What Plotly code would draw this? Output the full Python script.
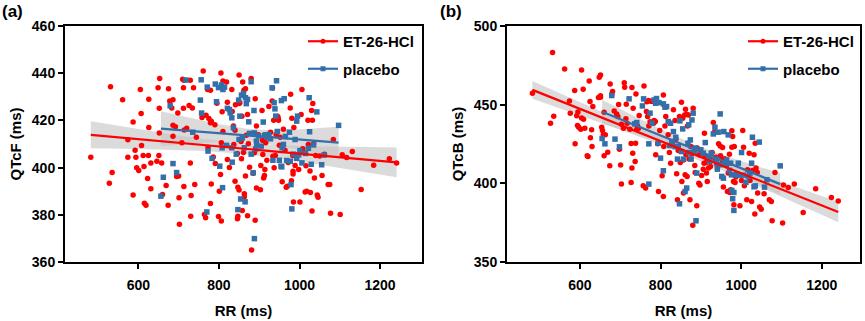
import numpy as np
import plotly.graph_objects as go

# ---------------- Panel (a): QTcF vs RR ----------------
a_red_rr = [482,531,528,535,561,574,574,587,587,592,594,596,601,605,607,608,612,614,615,619,625,623,626,626,631,631,
            646,649,652,652,651,653,658,660,669,674,675,678,683,686,686,692,686,695,698,700,701,702,708,710,712,712,713,
            713,714,720,726,729,729,730,731,734,737,740,744,758,761,764,767,768,772,773,775,779,779,781,779,781,786,790,
            791,795,799,801,804,805,806,806,808,810,810,819,821,821,826,832,833,836,837,840,840,841,846,846,847,847,850,
            850,850,852,855,856,857,858,859,861,862,863,863,866,866,866,868,871,871,873,876,880,881,885,888,890,890,893,
            893,898,903,904,907,908,909,911,913,914,916,919,924,928,932,933,934,936,937,940,942,946,947,948,950,952,957,
            960,964,967,970,972,977,978,980,981,983,984,984,985,986,989,998,1001,1004,1006,1008,1011,1014,1016,1018,1021,
            1022,1026,1027,1030,1031,1032,1033,1035,1037,1040,1044,1046,1050,1056,1062,1071,1075,1077,1084,1101,1106,1117,
            1131,1153,1184,1223,1241]
a_red_qt = [404.4,434.3,393.4,397.9,428.7,411.8,404.4,419.3,388.4,407.4,404.4,399.9,398.8,433.1,422.9,409.4,405.1,400.5,
            384.9,384.0,405.1,395.4,429.0,417.0,401.9,391.0,402.7,433.8,425.1,414.7,405.1,437.8,402.0,388.6,392.4,384.0,
            433.4,428.2,425.3,428.8,417.9,417.3,413.3,396.2,423.1,396.4,387.2,376.0,410.5,437.4,433.8,425.2,437.0,392.0,
            415.9,416.7,426.3,402.0,437.0,379.4,388.2,425.3,433.8,392.8,412.9,421.2,440.9,380.1,378.7,422.2,433.1,408.5,
            420.8,432.8,419.0,419.6,384.8,393.1,404.5,418.2,401.7,427.3,379.3,390.0,397.1,440.1,377.4,410.5,423.7,436.7,
            415.3,436.3,427.7,403.4,400.0,433.1,423.8,417.6,409.8,415.8,394.2,426.6,406.0,378.3,379.4,391.7,427.2,439.2,
            390.5,427.5,411.1,403.7,421.8,381.8,436.3,406.4,432.8,388.9,387.7,429.6,396.4,433.4,413.7,379.6,422.5,410.1,
            400.2,437.8,365.1,397.6,406.3,429.2,377.7,417.6,391.4,413.9,390.6,400.9,424.2,411.6,405.5,395.6,396.7,399.2,
            410.5,403.1,425.9,415.0,428.2,433.7,404.8,420.1,399.9,405.1,414.0,421.6,420.9,420.1,409.5,412.9,394.0,416.2,
            407.4,391.7,392.1,402.2,425.3,431.1,394.4,420.9,405.1,397.3,398.5,385.4,417.0,400.9,399.2,385.4,422.5,433.1,
            408.0,406.3,389.7,400.8,390.0,420.1,409.8,398.6,389.5,424.2,381.6,420.1,427.2,410.2,395.6,405.1,388.4,387.4,
            404.9,396.6,405.7,392.8,392.8,380.7,411.9,380.1,405.4,404.3,406.8,390.7,401.0,403.8,402.0]

a_blue_rr = [656,662,679,686,695,718,735,756,754,757,770,773,771,783,791,794,799,802,806,808,809,810,814,819,821,826,828,
             832,832,833,836,843,847,849,850,852,854,856,858,861,863,865,866,868,871,874,876,880,880,885,887,888,888,891,
             893,894,898,905,910,913,916,920,924,928,932,934,937,939,941,943,945,950,954,955,956,957,960,962,965,968,975,
             977,979,981,985,989,993,993,995,998,1001,1006,1015,1022,1024,1025,1029,1035,1043,1055,1061,1097]
a_blue_qt = [387.9,395.9,426.2,401.7,397.9,437.1,415.0,437.2,428.6,423.1,381.2,407.0,434.1,403.9,435.4,427.9,433.9,400.6,
             435.0,408.4,391.5,433.1,434.1,409.4,425.1,424.6,423.2,421.1,408.4,402.3,416.9,405.7,382.2,428.6,411.9,421.8,
             386.7,430.7,412.6,431.4,408.4,385.5,429.6,427.1,428.9,419.4,414.5,405.7,436.4,397.8,424.2,414.7,369.9,407.9,
             411.2,409.5,413.4,409.1,419.3,413.6,413.9,412.8,414.0,412.2,433.8,403.1,427.5,424.9,421.8,436.8,415.3,403.1,
             400.6,428.4,400.3,408.4,409.8,429.2,413.2,403.0,415.0,402.7,392.8,382.5,405.7,411.9,419.7,403.9,421.8,405.4,
             407.2,402.0,406.0,408.2,429.6,415.2,401.4,409.6,423.6,401.2,405.3,417.9]

# ---------------- Panel (b): QTcB vs RR ----------------
b_red_rr = [482,527,532,535,562,574,576,587,588,592,594,595,597,602,604,604,608,609,612,618,620,623,625,626,629,630,632,
            646,648,651,651,651,654,656,658,660,660,663,669,674,675,679,681,685,691,694,696,698,701,703,703,708,710,711,
            714,715,717,724,727,727,729,729,731,732,737,738,739,741,743,745,747,757,759,763,765,766,768,770,771,774,775,
            780,783,784,787,788,793,795,798,804,807,807,808,811,813,819,822,825,830,832,836,838,840,842,844,847,849,852,
            853,855,857,857,860,861,862,863,865,866,867,869,871,873,875,877,880,881,885,886,890,891,895,896,898,902,905,
            906,908,909,911,913,914,916,919,921,924,928,931,933,935,938,941,944,948,949,953,954,956,959,963,966,968,971,
            972,974,977,977,979,981,982,983,985,987,997,1001,1004,1006,1008,1014,1016,1020,1022,1026,1028,1032,1034,1035,
            1037,1040,1041,1046,1050,1057,1070,1075,1077,1084,1103,1105,1117,1132,1154,1185,1224,1241]
b_red_qt = [457.3,438.2,483.1,442.7,472.7,452.4,444.6,459.0,425.1,442.9,436.7,445.4,435.7,434.4,441.6,472.1,459.8,440.8,
            435.0,417.5,417.1,465.1,452.0,428.9,434.0,423.4,448.8,454.5,467.4,455.6,468.9,454.7,435.7,433.6,430.8,445.2,
            417.5,430.8,419.8,411.1,463.2,456.6,458.3,446.0,444.1,442.4,450.1,421.7,411.6,399.5,437.6,435.0,464.0,461.1,
            441.0,450.3,438.2,434.4,400.6,425.3,409.7,460.9,419.2,447.7,413.9,425.5,456.8,434.4,436.5,434.8,443.1,398.4,
            461.9,397.0,445.6,451.8,442.4,452.7,436.5,439.1,452.2,452.0,438.2,439.9,439.3,418.1,425.1,394.8,433.6,404.8,
            456.2,391.7,423.4,436.5,442.4,430.8,419.6,412.8,426.2,446.7,439.9,428.1,406.1,389.6,420.9,442.4,413.3,451.5,
            401.2,441.3,414.9,393.8,443.5,405.4,447.1,418.1,443.9,404.4,436.5,443.5,415.4,389.6,423.4,418.8,373.3,447.7,
            411.3,406.9,385.7,422.4,400.1,418.1,399.0,405.0,418.8,409.0,412.8,431.9,417.1,413.3,406.5,401.2,409.7,416.0,
            410.7,419.6,438.6,432.3,415.4,416.6,409.7,425.1,423.8,417.5,414.9,422.8,397.6,415.6,411.1,394.8,406.5,418.5,
            394.2,395.9,433.4,423.0,429.8,401.2,386.4,423.4,400.6,404.0,385.7,401.8,433.6,423.0,398.4,389.6,408.6,419.2,
            401.8,388.5,408.2,418.1,380.5,425.5,409.7,406.9,393.8,384.9,383.6,393.4,389.6,388.5,376.2,406.9,374.8,398.9,
            397.4,399.5,381.5,396.6,391.0,388.7]

b_blue_rr = [655,662,679,687,698,722,736,741,755,758,771,771,774,779,784,788,790,794,796,800,807,807,811,815,819,822,825,
             828,832,836,838,842,844,847,848,852,855,857,861,865,868,870,871,874,876,878,881,884,886,888,890,900,906,911,
             919,922,926,931,935,938,939,941,943,948,950,952,956,957,962,964,968,971,974,976,977,979,982,982,987,989,993,
             995,1001,1006,1012,1018,1022,1026,1028,1032,1035,1045,1058,1064,1097]
b_blue_qt = [428.5,425.1,455.8,428.1,423.2,453.7,437.8,438.6,449.2,453.7,399.5,425.1,444.6,438.2,453.0,450.9,453.9,425.5,
             451.3,416.0,408.0,450.5,448.4,448.8,439.3,424.0,438.2,426.6,432.9,423.4,429.3,415.4,423.4,387.0,439.7,420.2,
             434.6,415.4,394.8,397.0,425.5,437.2,419.6,427.6,415.4,440.3,444.6,420.2,422.4,376.2,406.5,421.3,419.2,425.9,
             416.0,413.9,419.2,431.4,435.7,415.4,412.8,409.0,432.5,444.1,411.8,404.4,403.3,432.9,412.4,414.9,430.8,408.2,
             412.8,405.4,395.5,390.2,382.8,394.2,405.2,405.8,412.8,405.2,419.6,405.2,400.6,404.4,406.5,412.8,429.3,397.8,
             398.4,426.2,397.6,402.3,411.1]

series_names = ["ET-26-HCl", "placebo"]
x_ticks = [600, 800, 1000, 1200]
a_y_ticks = [360, 380, 400, 420, 440, 460]
b_y_ticks = [350, 400, 450, 500]

RED = "#FF0000"
BLUE = "#336FA8"
BAND = "rgba(195,195,195,0.6)"
FONT = "Liberation Sans, Arial, sans-serif"


def fit_band(x, y, n_pts=60):
    x = np.asarray(x, float)
    y = np.asarray(y, float)
    n = len(x)
    b1, b0 = np.polyfit(x, y, 1)
    res = y - (b0 + b1 * x)
    s = np.sqrt(np.sum(res ** 2) / (n - 2))
    xm = x.mean()
    sxx = np.sum((x - xm) ** 2)
    xs = np.linspace(x.min(), x.max(), n_pts)
    yh = b0 + b1 * xs
    se = s * np.sqrt(1.0 / n + (xs - xm) ** 2 / sxx)
    t = 1.97
    return xs, yh, yh - t * se, yh + t * se


fig = go.Figure()

panels = [
    ("x", "y", "legend", [(a_red_rr, a_red_qt), (a_blue_rr, a_blue_qt)]),
    ("x2", "y2", "legend2", [(b_red_rr, b_red_qt), (b_blue_rr, b_blue_qt)]),
]
colors = [RED, BLUE]
symbols = ["circle", "square"]

for xa, ya, leg, groups in panels:
    for (xx, yy) in groups:
        xs, yh, lo, hi = fit_band(xx, yy)
        fig.add_trace(go.Scatter(x=np.concatenate([xs, xs[::-1]]), y=np.concatenate([hi, lo[::-1]]),
                                 fill="toself", fillcolor=BAND, line=dict(width=0), mode="lines",
                                 hoverinfo="skip", showlegend=False, xaxis=xa, yaxis=ya))
    for i, (xx, yy) in enumerate(groups):
        fig.add_trace(go.Scatter(x=xx, y=yy, mode="markers",
                                 marker=dict(color=colors[i], symbol=symbols[i], size=5.5, line=dict(width=0)),
                                 showlegend=False, xaxis=xa, yaxis=ya))
    for i, (xx, yy) in enumerate(groups):
        xs, yh, lo, hi = fit_band(xx, yy)
        fig.add_trace(go.Scatter(x=xs, y=yh, mode="lines", line=dict(color=colors[i], width=2.2),
                                 showlegend=False, xaxis=xa, yaxis=ya))
    for i in range(2):
        fig.add_trace(go.Scatter(x=[None], y=[None], mode="lines+markers", name=series_names[i],
                                 line=dict(color=colors[i], width=2.2),
                                 marker=dict(color=colors[i], symbol=symbols[i], size=5),
                                 legend=leg, legendgroup=leg + str(i), xaxis=xa, yaxis=ya))

axis_common = dict(showline=True, mirror=True, linecolor="black", linewidth=2, ticks="outside",
                   ticklen=5, tickwidth=2, tickcolor="black", showgrid=False, zeroline=False,
                   automargin=False,
                   tickfont=dict(family=FONT, size=14, color="black", weight="bold"))
title_font = dict(family=FONT, size=15, color="black", weight="bold")

fig.update_layout(
    width=865, height=321, margin=dict(l=0, r=0, t=0, b=0, autoexpand=False),
    plot_bgcolor="white", paper_bgcolor="white",
    xaxis=dict(domain=[65 / 865, 422 / 865], range=[418, 1304], tickvals=x_ticks, ticklabelstandoff=4,
               title=dict(text="RR (ms)", font=title_font, standoff=14), anchor="y", **axis_common),
    yaxis=dict(domain=[59 / 321, 295 / 321], range=[360, 460], tickvals=a_y_ticks,
               title=dict(text="QTcF (ms)", font=title_font, standoff=7), anchor="x", **axis_common),
    xaxis2=dict(domain=[507 / 865, 860 / 865], range=[419, 1295], tickvals=x_ticks, ticklabelstandoff=4,
                title=dict(text="RR (ms)", font=title_font, standoff=14), anchor="y2", **axis_common),
    yaxis2=dict(domain=[59 / 321, 295 / 321], range=[350, 500], tickvals=b_y_ticks,
                title=dict(text="QTcB (ms)", font=title_font, standoff=7), anchor="x2", **axis_common),
    legend=dict(x=303 / 865, y=1 - 25 / 321, xanchor="left", yanchor="top", bgcolor="rgba(0,0,0,0)",
                font=dict(family=FONT, size=15, color="black", weight="bold"), tracegroupgap=5,
                traceorder="grouped", itemwidth=30),
    legend2=dict(x=743 / 865, y=1 - 25 / 321, xanchor="left", yanchor="top", bgcolor="rgba(0,0,0,0)",
                 font=dict(family=FONT, size=15, color="black", weight="bold"), tracegroupgap=5,
                 traceorder="grouped", itemwidth=30),
    annotations=[
        dict(text="(a)", x=0, y=1, xref="paper", yref="paper", xanchor="left", yanchor="top",
             showarrow=False, font=dict(family=FONT, size=17, color="black", weight="bold")),
        dict(text="(b)", x=438 / 865, y=1, xref="paper", yref="paper", xanchor="left", yanchor="top",
             showarrow=False, font=dict(family=FONT, size=17, color="black", weight="bold")),
    ],
)

fig.write_html("out.html", config={"displayModeBar": False},
               post_script="document.body.style.margin='0';document.body.style.overflow='hidden';")
